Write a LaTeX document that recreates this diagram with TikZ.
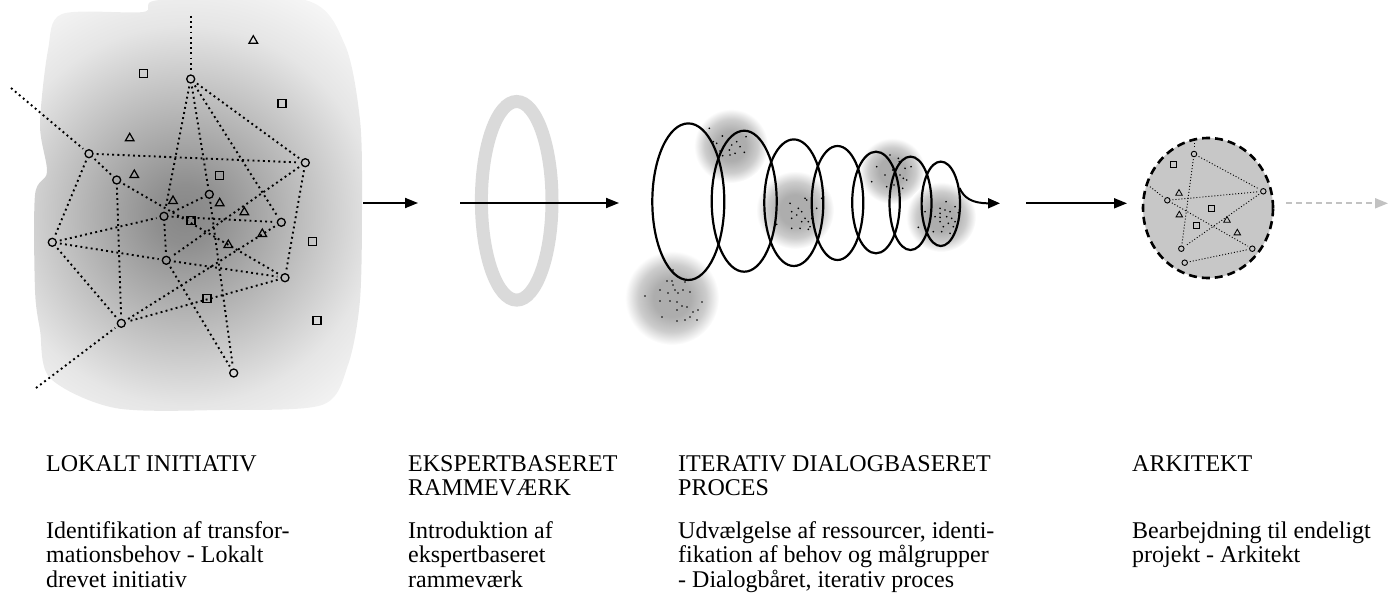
\documentclass[tikz,border=0pt]{standalone}
\usepackage{fontspec}
\setmainfont{Liberation Serif}
\usetikzlibrary{arrows.meta,shapes.geometric}
\definecolor{blobA}{gray}{0.53}
\definecolor{blobB}{gray}{0.56}
\definecolor{blobC}{gray}{0.90}
\definecolor{blobD}{gray}{0.965}
\definecolor{smin}{gray}{0.68}
\definecolor{smmid}{gray}{0.80}
\definecolor{ringc}{gray}{0.855}
\definecolor{archfill}{gray}{0.78}
\definecolor{ghost}{gray}{0.76}
\pgfdeclareradialshading{bigblob}{\pgfpointorigin}{color(0bp)=(blobA); color(3bp)=(blobB); color(19bp)=(blobC); color(25bp)=(blobD); color(50bp)=(blobD)}
\pgfdeclareradialshading{smudge}{\pgfpointorigin}{color(0bp)=(smin); color(10bp)=(smin); color(18bp)=(smmid); color(25bp)=(white); color(50bp)=(white)}
\tikzset{
  cn/.style={circle, draw, line width=1.3pt, minimum size=8pt, inner sep=0pt},
  sq/.style={rectangle, draw, line width=1.3pt, minimum size=8pt, inner sep=0pt},
  tri/.style={regular polygon, regular polygon sides=3, draw, line width=1.2pt, minimum size=10pt, inner sep=0pt},
  scn/.style={circle, draw, line width=0.9pt, minimum size=5.5pt, inner sep=0pt},
  ssq/.style={rectangle, draw, line width=0.9pt, minimum size=6pt, inner sep=0pt},
  stri/.style={regular polygon, regular polygon sides=3, draw, line width=0.8pt, minimum size=7.5pt, inner sep=0pt},
  dotl/.style={dash pattern=on 1.9pt off 3.3pt, line width=1.9pt, shorten >=3pt, shorten <=3pt},
  sdotl/.style={dash pattern=on 1pt off 2pt, line width=0.9pt, shorten >=2pt, shorten <=2pt},
  arr/.style={-{Triangle[length=13pt,width=10pt]}, line width=1.8pt},
  sp/.style={line width=2.2pt},
  txt/.style={anchor=base west, align=left, inner sep=0pt, font=\fontsize{24}{24.5}\selectfont},
}
\begin{document}
\begin{tikzpicture}[x=1pt,y=-1pt]
\useasboundingbox (0,0) rectangle (1391,599);

% ---------- big blob ----------
\begin{scope}
\clip plot[smooth cycle, tension=0.5] coordinates {(62,14) (143,12) (160,0) (305,0) (345,45) (360,120) (362,200) (360,300) (348,365) (322,405) (220,410) (115,408) (50,378) (40,330) (35,290) (35,195) (47,172) (40,125) (48,50)};
\shade[shading=bigblob] (-65,-35) rectangle (435,465);
\end{scope}

% ---------- network ----------
\node[cn] (c1) at (190.7,79) {};
\node[cn] (c2) at (89,153.7) {};
\node[cn] (c3) at (305.3,162.7) {};
\node[cn] (c4) at (116.7,180) {};
\node[cn] (c5) at (209.3,194.3) {};
\node[cn] (c6) at (164,216.3) {};
\node[cn] (c7) at (281.3,222.3) {};
\node[cn] (c8) at (52.3,242.3) {};
\node[cn] (c9) at (166.3,260.3) {};
\node[cn] (c10) at (285,277.7) {};
\node[cn] (c11) at (121.3,323.3) {};
\node[cn] (c12) at (233.7,373) {};
\node[sq] (s1) at (143.3,73.7) {};
\node[sq] (s2) at (282,103.7) {};
\node[sq] (s3) at (219.7,175.7) {};
\node[sq] (s4) at (191,220.3) {};
\node[sq] (s5) at (312.3,241.7) {};
\node[sq] (s6) at (207,298.3) {};
\node[sq] (s7) at (317,320.7) {};
\node[tri] (t1) at (253.3,40.7) {};
\node[tri] (t2) at (129.7,138.3) {};
\node[tri] (t3) at (134.3,175) {};
\node[tri] (t4) at (173,201) {};
\node[tri] (t5) at (219.7,203.3) {};
\node[tri] (t6) at (244.3,212.3) {};
\node[tri] (t7) at (262.3,234) {};
\node[tri] (t8) at (228.3,245) {};
\coordinate (ftop) at (190.7,16);
\coordinate (fleft) at (11,88);
\coordinate (fbot) at (36,388);
\draw[dotl, shorten <=0pt] (ftop) -- (c1);
\draw[dotl, shorten <=0pt] (fleft) -- (c2);
\draw[dotl, shorten <=0pt] (fbot) -- (c11);
\foreach \a/\b in {c1/c3, c1/c6, c1/c5, c1/c7, c2/c3, c2/c8, c2/c4, c4/c10, c4/c11, c8/c6, c8/c9, c8/c11, c9/c12, c5/c12, c5/c6, c6/c7, c3/c9, c3/c10, c7/c11, c10/c11, c9/c10, c6/c9}
  \draw[dotl] (\a) -- (\b);

% ---------- arrow 1 ----------
\coordinate (a1s) at (363,203);
\coordinate (a1e) at (418,203);
\draw[arr] (a1s) -- (a1e);

% ---------- ring ----------
\node[ellipse, minimum width=70.6pt, minimum height=198.6pt, inner sep=0pt] (ring) at (516.7,200.8) {};
\draw[ringc, line width=13pt] (ring.center) ellipse (35.3 and 99.3);
\coordinate (a2s) at (460,203);
\coordinate (a2e) at (619,203);
\draw[arr] (a2s) -- (a2e);

% ---------- smudges ----------
\shade[shading=smudge] (731,146) circle (37);
\shade[shading=smudge] (795,210) circle (39);
\shade[shading=smudge] (892,171) circle (33);
\shade[shading=smudge] (941,217) circle (35);
\shade[shading=smudge] (672,298) circle (47);

% dots
\foreach \x/\y in {645/296, 662/317, 660/290, 667/281, 672/281, 673/285, 668/293, 675/290, 678/293, 683/290, 690/292, 702/302, 698/310, 693/312, 687/307, 682/306, 677/302, 670/301, 660/301, 677/310, 690/317, 685/320, 677/321, 697/320, 673/270, 685/282,
 709.3/128.3, 722.3/136, 736.7/141.7, 746/136.7, 716.7/143.3, 731.7/145, 729.3/150, 735/153.3, 744.3/152.3, 720/151, 722.7/155.7, 730/155, 713.3/141.7, 740/146.7,
 790/203.3, 798.3/208.3, 805/198.3, 806.7/200, 821.7/198.3, 816.7/208.3, 791.7/211.7, 801.7/211.7, 796.7/215, 791.7/218.3, 805/218.3, 811.7/218.3, 801.7/221.7, 808.3/221.7, 813.3/223.3, 810/226.7, 791.7/228.3, 800/228.3, 808.3/229.3, 776.7/224.3,
 890/155, 898.3/158.3, 876.7/166.7, 885/175, 892.7/170, 895/171.7, 905/168.3, 911/166.7, 900/175, 903.3/178.3, 906.7/180, 871.7/181.7, 886.7/186.7, 894/185, 902.7/188.3, 899.3/161.7,
 946/201.7, 955/206.7, 940/208.3, 945/210, 950/211.7, 925/211.7, 940/213.3, 958.3/212.7, 935/216.7, 940/217.3, 946.7/216.7, 951.7/218.3, 955/221.7, 948.3/223.3, 953.3/226.7, 940/221.7, 943.3/226.7, 933.3/231.7, 941.7/231.7, 950/233.3, 918.3/227.3}
  \fill (\x,\y) circle (0.95);

% ---------- spiral ----------
\draw[sp] (688.3,201.7) ellipse (36 and 78.3);
\draw[sp] (744.2,201.2) ellipse (32.5 and 70.5);
\draw[sp] (793.8,202.7) ellipse (29.5 and 63.3);
\draw[sp] (837.5,203) ellipse (25.8 and 57);
\draw[sp] (876,202.5) ellipse (23.8 and 50.8);
\draw[sp] (910.5,203.3) ellipse (21 and 46.7);
\draw[sp] (940.8,203.8) ellipse (19.2 and 42.2);
\coordinate (tail) at (959.5,188);
\coordinate (tailend) at (1000,203.3);
\draw[-{Triangle[length=12pt,width=10pt]}, line width=2pt] (tail) .. controls (964,198) and (972,203.3) .. (tailend);

% ---------- arrow 3 ----------
\coordinate (a3s) at (1026,203.3);
\coordinate (a3e) at (1127,203.3);
\draw[arr] (a3s) -- (a3e);

% ---------- architect ----------
\node[ellipse, draw, fill=archfill, dash pattern=on 8pt off 5pt, line width=2.6pt, minimum width=130pt, minimum height=140pt, inner sep=0pt] (arch) at (1208,208) {};
\node[scn] (r1) at (1194,154) {};
\node[scn] (r2) at (1263.3,191.3) {};
\node[scn] (r3) at (1167.3,200.3) {};
\node[scn] (r4) at (1252.3,248.7) {};
\node[scn] (r5) at (1181.3,248.7) {};
\node[scn] (r6) at (1184.7,262.7) {};
\node[ssq] (q1) at (1173.3,164) {};
\node[ssq] (q2) at (1211.7,208.3) {};
\node[ssq] (q3) at (1196,225) {};
\node[stri] (p1) at (1179,193.3) {};
\node[stri] (p2) at (1179.3,215) {};
\node[stri] (p3) at (1227,220.3) {};
\node[stri] (p4) at (1237.3,233) {};
\coordinate (rtop) at (1194,140);
\coordinate (rleft) at (1150,186.7);
\draw[sdotl, shorten <=0pt] (rtop) -- (r1);
\draw[sdotl, shorten <=0pt] (rleft) -- (r3);
\foreach \a/\b in {r1/r2, r1/r5, r3/r2, r3/r4, r2/r5, r6/r4}
  \draw[sdotl] (\a) -- (\b);

% ---------- ghost arrow ----------
\coordinate (a4s) at (1286,203.3);
\coordinate (a4e) at (1388,203.3);
\draw[ghost, dash pattern=on 6pt off 4pt, line width=1.8pt, -{Triangle[length=13pt,width=10pt]}] (a4s) -- (a4e);

% ---------- texts (base = last line) ----------
\node[txt] (h1) at (46,471) {LOKALT INITIATIV};
\node[txt] (b1) at (46,587) {Identifikation af transfor-\\mationsbehov - Lokalt\\drevet initiativ};
\node[txt] (h2) at (408,495.5) {EKSPERTBASERET\\RAMMEVÆRK};
\node[txt] (b2) at (408,587) {Introduktion af\\ekspertbaseret\\rammeværk};
\node[txt] (h3) at (678,495.5) {ITERATIV DIALOGBASERET\\PROCES};
\node[txt] (b3) at (678,587) {Udvælgelse af ressourcer, identi-\\fikation af behov og målgrupper\\- Dialogbåret, iterativ proces};
\node[txt] (h4) at (1132,471) {ARKITEKT};
\node[txt] (b4) at (1132,562.5) {Bearbejdning til endeligt\\projekt - Arkitekt};
\end{tikzpicture}
\end{document}
